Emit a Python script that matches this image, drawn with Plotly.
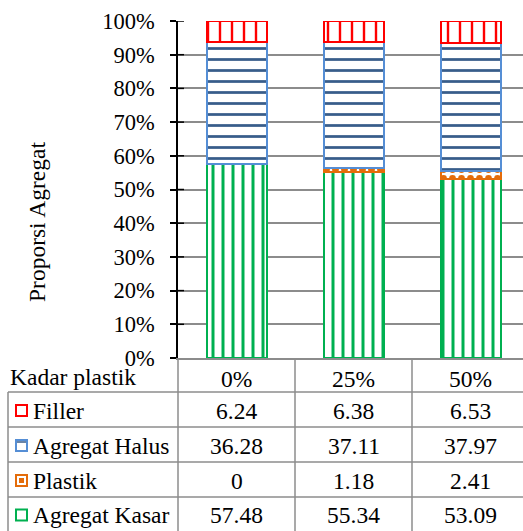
import plotly.graph_objects as go

# Komposisi agregat campuran (%) untuk tiap kadar plastik
kadar_plastik = ["0%", "25%", "50%"]
agregat_kasar = [57.48, 55.34, 53.09]
plastik = [0, 1.18, 2.41]
agregat_halus = [36.28, 37.11, 37.97]
filler = [6.24, 6.38, 6.53]
y_ticks = [0, 10, 20, 30, 40, 50, 60, 70, 80, 90, 100]

W, H = 523, 531
L, T, B = 178, 21, 173           # plot-area margins in px
PW, PH = W - L, H - T - B        # plot-area size in px
CAT_W = 117                      # px per category column

FONT = "'Liberation Serif', 'Times New Roman', serif"

# series: name, values, outline colour, pattern shape, pattern colour, size, solidity
series = [
    ("Agregat Kasar", agregat_kasar, "#00B050", "|", "#00B050", 10, 0.3),
    ("Plastik", plastik, "#E46C0A", ".", "#E46C0A", 9, 0.45),
    ("Agregat Halus", agregat_halus, "#558ED5", "-", "#385D8A", 11, 0.25),
    ("Filler", filler, "#FF0000", "|", "#FF0000", 12, 0.2),
]

fig = go.Figure()
for name, vals, line_c, shp, fg, sz, sol in series:
    fig.add_trace(go.Bar(
        name=name, x=kadar_plastik, y=vals,
        width=60 / CAT_W,
        marker=dict(
            color="white",
            line=dict(color=line_c, width=[2 if v > 0 else 0 for v in vals]),
            pattern=dict(shape=shp, fgcolor=fg, bgcolor="white",
                         size=sz, solidity=sol, fillmode="replace"),
        ),
        showlegend=False,
    ))


def px(xp):
    return (xp - L) / PW


def py(yp):
    return (H - B - yp) / PH


shapes = []
annotations = []
grid = "#8C8C8C"

# inner half of the crossing tick marks
for v in y_ticks[1:]:
    shapes.append(dict(type="line", xref="paper", yref="y",
                       x0=0, x1=px(L + 6), y0=v, y1=v,
                       line=dict(color="black", width=1.5)))

# data-table grid lines
row_edges = [392, 427, 462, 497, 531]
col_edges = [L, L + CAT_W, L + 2 * CAT_W]
for ye in row_edges[:-1]:
    shapes.append(dict(type="line", xref="paper", yref="paper",
                       x0=px(8), x1=px(W + 5), y0=py(ye), y1=py(ye),
                       line=dict(color=grid, width=1.5)))
for xe in col_edges:
    shapes.append(dict(type="line", xref="paper", yref="paper",
                       x0=px(xe), x1=px(xe), y0=py(358), y1=py(H + 5),
                       line=dict(color=grid, width=1.5)))
shapes.append(dict(type="line", xref="paper", yref="paper",
                   x0=px(8), x1=px(8), y0=py(392), y1=py(H + 5),
                   line=dict(color=grid, width=1.5)))

TXT = dict(family=FONT, size=23.5, color="black")

# header row
annotations.append(dict(xref="paper", yref="paper", x=px(8), y=py(377),
                        text="Kadar plastik", showarrow=False,
                        xanchor="left", yanchor="middle", font=TXT))
for i, cat in enumerate(kadar_plastik):
    cx = L + CAT_W * (i + 0.5)
    annotations.append(dict(xref="paper", yref="paper", x=px(cx), y=py(379),
                            text=cat, showarrow=False,
                            xanchor="center", yanchor="middle", font=TXT))

# value rows, top to bottom in stack order reversed
def fmt(v):
    return "0" if v == 0 else f"{v:g}"

table_rows = list(reversed(series))
for r, (name, vals, line_c, shp, fg, sz, sol) in enumerate(table_rows):
    y0, y1 = row_edges[r], row_edges[r + 1]
    cy = (y0 + y1) / 2 + 1
    # legend key
    shapes.append(dict(type="rect", xref="paper", yref="paper",
                       x0=px(16), x1=px(27), y0=py(cy - 5.5), y1=py(cy + 5.5),
                       line=dict(color=line_c, width=2), fillcolor="white"))
    if name == "Plastik":
        shapes.append(dict(type="rect", xref="paper", yref="paper",
                           x0=px(19), x1=px(24), y0=py(cy - 2.5), y1=py(cy + 2.5),
                           line=dict(width=0), fillcolor=line_c))
    if name == "Agregat Halus":
        shapes.append(dict(type="line", xref="paper", yref="paper",
                           x0=px(17), x1=px(26), y0=py(cy - 3.5), y1=py(cy - 3.5),
                           line=dict(color=fg, width=1.5)))
    annotations.append(dict(xref="paper", yref="paper", x=px(31), y=py(cy),
                            text=name, showarrow=False,
                            xanchor="left", yanchor="middle", font=TXT))
    for i, v in enumerate(vals):
        cx = L + CAT_W * (i + 0.5)
        annotations.append(dict(xref="paper", yref="paper", x=px(cx), y=py(cy),
                                text=fmt(v), showarrow=False,
                                xanchor="center", yanchor="middle", font=TXT))

# y-axis title
annotations.append(dict(xref="paper", yref="paper", x=px(37), y=py(222),
                        text="Proporsi Agregat", textangle=-90, showarrow=False,
                        xanchor="center", yanchor="middle",
                        font=dict(family=FONT, size=23.5, color="black")))

fig.update_layout(
    width=W, height=H,
    margin=dict(l=L, r=0, t=T, b=B, pad=0),
    barmode="stack",
    plot_bgcolor="white", paper_bgcolor="white",
    shapes=shapes, annotations=annotations,
    xaxis=dict(range=[-0.5, -0.5 + PW / CAT_W], showticklabels=False,
               ticks="", showgrid=False, zeroline=False,
               showline=True, linecolor=grid, linewidth=1.5),
    yaxis=dict(range=[0, 100], tickvals=y_ticks,
               ticktext=[f"{v}%" for v in y_ticks],
               tickfont=dict(family=FONT, size=22.5, color="black"),
               ticks="outside", ticklen=6, tickcolor="black", tickwidth=1.5,
               ticklabelstandoff=11,
               showline=True, linecolor="black", linewidth=1.5,
               showgrid=True, gridcolor=grid, gridwidth=1.5, zeroline=False),
)

fig.write_html("out.html")
